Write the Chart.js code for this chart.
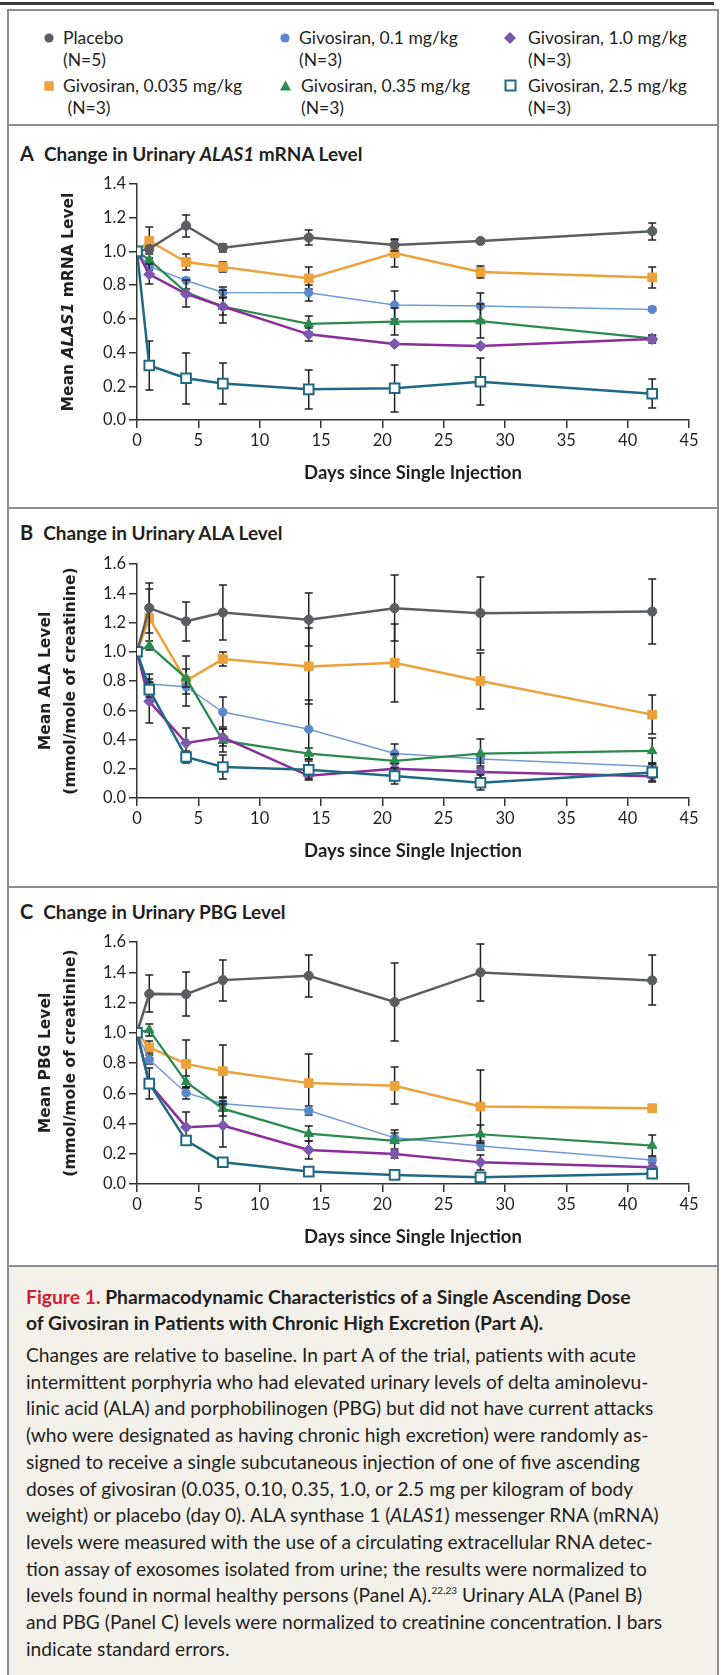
<!DOCTYPE html>
<html>
<head>
<meta charset="utf-8">
<title>Givosiran single ascending dose</title>
<script src="https://cdn.jsdelivr.net/npm/chart.js@4.4.1/dist/chart.umd.min.js"></script>
<style>
  html, body { margin: 0; padding: 0; background: #fff; }
  body { width: 721px; height: 1675px; position: relative; overflow: hidden;
         font-family: Lato, "Open Sans", sans-serif; color: #231f20; }
  .rule { position: absolute; left: 0; top: 2px; width: 714px; height: 3px; background: #3b3b3b; }
  .frame { position: absolute; left: 7px; top: 9px; width: 712px; height: 1680px;
           border: 2px solid #8d8d8d; box-sizing: border-box; }
  .sep { position: absolute; left: 7px; width: 712px; height: 2px; background: #8d8d8d; }
  .caption-bg { position: absolute; left: 9px; top: 1267px; width: 708px; height: 420px; background: #f4f1eb; }
  .leg { position: absolute; font-size: 17.5px; line-height: 21.5px; white-space: nowrap; }
  .mark { position: absolute; }
  .ptitle { position: absolute; left: 20px; font-size: 19px; font-weight: 700; white-space: nowrap; line-height: 22px; }
  .ptitle .letter { font-size: 20px; margin-right: 10px; }
  canvas { position: absolute; left: 0; }
  .cap { position: absolute; left: 26px; white-space: nowrap; }
  .cap-title { font-size: 19.3px; font-weight: 700; line-height: 25.7px; top: 1284px; }
  .cap-title .fig { color: #d1202f; }
  .cap-body { font-size: 19.2px; line-height: 26.7px; top: 1342px; }
  .cap-body sup { font-size: 10px; line-height: 0; vertical-align: 8px; }
</style>
</head>
<body>
<div class="rule"></div>
<div class="caption-bg"></div>
<div class="frame"></div>
<div class="sep" style="top:124px"></div>
<div class="sep" style="top:507px"></div>
<div class="sep" style="top:886px"></div>
<div class="sep" style="top:1265px"></div>

<!-- legend -->
<svg class="mark" style="left:43px;top:32px" width="12" height="12"><circle cx="6" cy="6" r="4.6" fill="#5b5e60"/></svg>
<div class="leg" style="left:63px;top:27px">Placebo<br>(N=5)</div>
<svg class="mark" style="left:43px;top:80px" width="12" height="12"><rect x="1.3" y="1.3" width="9.4" height="9.4" fill="#eba23c"/></svg>
<div class="leg" style="left:63px;top:75px">Givosiran, 0.035 mg/kg<br>&nbsp;(N=3)</div>
<svg class="mark" style="left:279px;top:32px" width="12" height="12"><circle cx="6" cy="6" r="4.6" fill="#5b88cc"/></svg>
<div class="leg" style="left:299px;top:27px">Givosiran, 0.1 mg/kg<br>(N=3)</div>
<svg class="mark" style="left:279px;top:79px" width="13" height="13"><polygon points="6.5,1.5 12,11.5 1,11.5" fill="#2b8a50"/></svg>
<div class="leg" style="left:301px;top:75px">Givosiran, 0.35 mg/kg<br>(N=3)</div>
<svg class="mark" style="left:503px;top:31px" width="14" height="14"><polygon points="7,1 13,7 7,13 1,7" fill="#7b57ae"/></svg>
<div class="leg" style="left:528px;top:27px">Givosiran, 1.0 mg/kg<br>(N=3)</div>
<svg class="mark" style="left:504px;top:79px" width="13" height="13"><rect x="1.5" y="1.5" width="10" height="10" fill="#fff" stroke="#1f6984" stroke-width="2"/></svg>
<div class="leg" style="left:528px;top:75px">Givosiran, 2.5 mg/kg<br>(N=3)</div>

<!-- panel titles -->
<div class="ptitle" style="top:142px"><span class="letter">A</span>Change in Urinary <i>ALAS1</i> mRNA Level</div>
<div class="ptitle" style="top:521px"><span class="letter">B</span>Change in Urinary ALA Level</div>
<div class="ptitle" style="top:900px"><span class="letter">C</span>Change in Urinary PBG Level</div>

<canvas id="chartA" width="721" height="335" style="top:165px"></canvas>
<canvas id="chartB" width="721" height="333" style="top:545px"></canvas>
<canvas id="chartC" width="721" height="341" style="top:923px"></canvas>

<!-- caption -->
<div class="cap cap-title"><span class="fig">Figure 1.</span> Pharmacodynamic Characteristics of a Single Ascending Dose<br>of Givosiran in Patients with Chronic High Excretion (Part A).</div>
<div class="cap cap-body">Changes are relative to baseline. In part A of the trial, patients with acute<br>intermittent porphyria who had elevated urinary levels of delta aminolevu-<br>linic acid (ALA) and porphobilinogen (PBG) but did not have current attacks<br>(who were designated as having chronic high excretion) were randomly as-<br>signed to receive a single subcutaneous injection of one of five ascending<br>doses of givosiran (0.035, 0.10, 0.35, 1.0, or 2.5 mg per kilogram of body<br>weight) or placebo (day 0). ALA synthase 1 (<i>ALAS1</i>) messenger RNA (mRNA)<br>levels were measured with the use of a circulating extracellular RNA detec-<br>tion assay of exosomes isolated from urine; the results were normalized to<br>levels found in normal healthy persons (Panel A).<sup>22,23</sup> Urinary ALA (Panel B)<br>and PBG (Panel C) levels were normalized to creatinine concentration. I bars<br>indicate standard errors.</div>

<script>
// Sampling days and axis ticks
const days = [0, 1, 4, 7, 14, 21, 28, 42];
const xTicks = [0, 5, 10, 15, 20, 25, 30, 35, 40, 45];
const yTicksA = [0, 0.2, 0.4, 0.6, 0.8, 1.0, 1.2, 1.4];
const yTicksBC = [0, 0.2, 0.4, 0.6, 0.8, 1.0, 1.2, 1.4, 1.6];

// Panel A: urinary ALAS1 mRNA (mean, standard error)
const alasPlacebo = [1.0, 1.015, 1.153, 1.022, 1.082, 1.038, 1.062, 1.12];
const alasPlaceboSe = [0, 0.02, 0.065, 0.025, 0.045, 0.035, 0.01, 0.05];
const alas0035 = [1.0, 1.062, 0.937, 0.908, 0.84, 0.99, 0.878, 0.846];
const alas0035Se = [0, 0.08, 0.05, 0.03, 0.065, 0.08, 0.035, 0.063];
const alas01 = [1.0, 0.911, 0.828, 0.757, 0.755, 0.682, 0.676, 0.656];
const alas01Se = [0, 0.02, 0.012, 0.03, 0.047, 0.085, 0.08, 0.012];
const alas035 = [1.0, 0.95, 0.758, 0.673, 0.57, 0.583, 0.587, 0.484];
const alas035Se = [0, 0.012, 0.02, 0.05, 0.047, 0.08, 0.1, 0.012];
const alas10 = [1.0, 0.864, 0.748, 0.673, 0.508, 0.451, 0.439, 0.48];
const alas10Se = [0, 0.06, 0.08, 0.1, 0.04, 0.012, 0.012, 0.022];
const alas25 = [1.0, 0.323, 0.248, 0.216, 0.182, 0.188, 0.227, 0.156];
const alas25Se = [0, 0.147, 0.152, 0.12, 0.117, 0.14, 0.138, 0.086];

// Panel B: urinary ALA, mmol/mole of creatinine
const alaPlacebo = [1.0, 1.299, 1.208, 1.268, 1.219, 1.298, 1.264, 1.275];
const alaPlaceboSe = [0, 0.17, 0.132, 0.185, 0.18, 0.225, 0.25, 0.225];
const ala0035 = [1.0, 1.231, 0.802, 0.95, 0.9, 0.924, 0.8, 0.57];
const ala0035Se = [0, 0.2, 0.17, 0.045, 0.26, 0.265, 0.19, 0.135];
const ala01 = [1.0, 0.78, 0.761, 0.588, 0.47, 0.304, 0.266, 0.216];
const ala01Se = [0, 0.07, 0.05, 0.1, 0.2, 0.065, 0.03, 0.02];
const ala035 = [1.0, 1.042, 0.82, 0.392, 0.304, 0.254, 0.304, 0.322];
const ala035Se = [0, 0.03, 0.06, 0.08, 0.04, 0.05, 0.1, 0.085];
const ala10 = [1.0, 0.661, 0.376, 0.415, 0.152, 0.2, 0.178, 0.148];
const ala10Se = [0, 0.15, 0.1, 0.06, 0.03, 0.03, 0.04, 0.04];
const ala25 = [1.0, 0.741, 0.28, 0.212, 0.193, 0.15, 0.104, 0.175];
const ala25Se = [0, 0.05, 0.04, 0.08, 0.06, 0.055, 0.05, 0.06];

// Panel C: urinary PBG, mmol/mole of creatinine
const pbgPlacebo = [1.0, 1.257, 1.255, 1.348, 1.377, 1.203, 1.399, 1.346];
const pbgPlaceboSe = [0, 0.122, 0.145, 0.135, 0.138, 0.26, 0.19, 0.165];
const pbg0035 = [1.0, 0.903, 0.794, 0.746, 0.667, 0.649, 0.512, 0.501];
const pbg0035Se = [0, 0.04, 0.155, 0.175, 0.19, 0.123, 0.24, 0.012];
const pbg01 = [1.0, 0.823, 0.602, 0.531, 0.486, 0.305, 0.252, 0.159];
const pbg01Se = [0, 0.03, 0.04, 0.045, 0.03, 0.03, 0.03, 0.02];
const pbg035 = [1.0, 1.018, 0.675, 0.498, 0.333, 0.285, 0.329, 0.254];
const pbg035Se = [0, 0.04, 0.04, 0.05, 0.05, 0.07, 0.06, 0.07];
const pbg10 = [1.0, 0.664, 0.376, 0.387, 0.225, 0.199, 0.143, 0.11];
const pbg10Se = [0, 0.1, 0.1, 0.14, 0.06, 0.03, 0.05, 0.012];
const pbg25 = [1.0, 0.664, 0.288, 0.144, 0.082, 0.06, 0.044, 0.068];
const pbg25Se = [0, 0.02, 0.012, 0.012, 0.012, 0.01, 0.01, 0.012];

// Group styling (legend order)
const groups = [
    { name: 'Placebo', line: '#5b5e60', width: 2.5, shape: 'circle', r: 4.6, fill: '#5b5e60', edge: '#5b5e60', edgeW: 1, order: 1 },
    { name: 'Givosiran, 0.035 mg/kg', line: '#eba23c', width: 2.5, shape: 'rect', r: 6.2, fill: '#eba23c', edge: '#eba23c', edgeW: 1, order: 5 },
    { name: 'Givosiran, 0.1 mg/kg', line: '#6f9ad8', width: 1.5, shape: 'circle', r: 4.2, fill: '#5b88cc', edge: '#5b88cc', edgeW: 1, order: 4 },
    { name: 'Givosiran, 0.35 mg/kg', line: '#2b8a50', width: 2.2, shape: 'triangle', r: 5.5, fill: '#2b8a50', edge: '#2b8a50', edgeW: 1, order: 3 },
    { name: 'Givosiran, 1.0 mg/kg', line: '#8b2d9b', width: 2.5, shape: 'rectRot', r: 5.5, fill: '#7b57ae', edge: '#7b57ae', edgeW: 1, order: 2 },
    { name: 'Givosiran, 2.5 mg/kg', line: '#1f6984', width: 2.5, shape: 'rect', r: 6.8, fill: '#ffffff', edge: '#1f6984', edgeW: 2, order: 0 }
];

Chart.defaults.font.family = 'Lato, "Open Sans", sans-serif';
Chart.defaults.color = '#231f20';

// draw I bars under each group's own line and markers
const errorBars = {
    id: 'errorBars',
    beforeDatasetDraw(chart, args) {
        const ds = chart.data.datasets[args.index];
        if (!ds.se) return;
        const y = chart.scales.y;
        const ctx = chart.ctx;
        ctx.save();
        ctx.strokeStyle = '#231f20';
        ctx.lineWidth = 1.5;
        args.meta.data.forEach((pt, i) => {
            const e = ds.se[i];
            if (!e) return;
            const v = ds.data[i].y;
            const top = Math.round(y.getPixelForValue(v + e));
            const bot = Math.round(y.getPixelForValue(v - e));
            ctx.beginPath();
            ctx.moveTo(pt.x, top); ctx.lineTo(pt.x, bot);
            ctx.moveTo(pt.x - 4, top); ctx.lineTo(pt.x + 4, top);
            ctx.moveTo(pt.x - 4, bot); ctx.lineTo(pt.x + 4, bot);
            ctx.stroke();
        });
        ctx.restore();
    }
};

// y title with mixed roman / italic parts (panel A)
const richYTitle = {
    id: 'richYTitle',
    afterDraw(chart, args, opts) {
        if (!opts.parts) return;
        const ctx = chart.ctx;
        const area = chart.chartArea;
        const fonts = opts.parts.map(p => (p.italic ? 'italic ' : '') + 'bold 15.5px "DejaVu Sans"');
        ctx.save();
        let total = 0;
        opts.parts.forEach((p, i) => { ctx.font = fonts[i]; total += ctx.measureText(p.text).width; });
        ctx.translate(opts.x, (area.top + area.bottom) / 2);
        ctx.rotate(-Math.PI / 2);
        ctx.fillStyle = '#231f20';
        ctx.textBaseline = 'middle';
        let pos = -total / 2;
        opts.parts.forEach((p, i) => {
            ctx.font = fonts[i];
            ctx.fillText(p.text, pos, 0);
            pos += ctx.measureText(p.text).width;
        });
        ctx.restore();
    }
};

function makeSets(seriesList) {
    return groups.map((g, k) => ({
        label: g.name,
        data: days.map((d, i) => ({ x: d, y: seriesList[k][0][i] })),
        se: seriesList[k][1],
        order: g.order,
        borderColor: g.line,
        borderWidth: g.width,
        pointStyle: g.shape,
        pointRadius: g.r,
        pointBackgroundColor: g.fill,
        pointBorderColor: g.edge,
        pointBorderWidth: g.edgeW,
        tension: 0,
        fill: false
    }));
}

function makeChart(id, seriesList, yTicks, yTitle, richParts) {
    const yMax = yTicks[yTicks.length - 1];
    return new Chart(document.getElementById(id), {
        type: 'line',
        data: { datasets: makeSets(seriesList) },
        plugins: [errorBars, richYTitle],
        options: {
            responsive: false,
            animation: false,
            events: [],
            layout: { padding: { top: 19, right: 32, bottom: 16, left: 0 } },
            plugins: {
                legend: { display: false },
                tooltip: { enabled: false },
                richYTitle: { parts: richParts, x: 69 }
            },
            scales: {
                x: {
                    type: 'linear', min: 0, max: 45,
                    afterBuildTicks: s => { s.ticks = xTicks.map(v => ({ value: v })); },
                    afterFit: s => { s.height = 64; },
                    ticks: { font: { size: 16.5 }, padding: 3, callback: v => String(v) },
                    grid: { drawOnChartArea: false, tickLength: 8, color: '#333', lineWidth: 1.5 },
                    border: { color: '#333', width: 1.5 },
                    title: { display: true, text: 'Days since Single Injection',
                             font: { size: 18.5, weight: 'bold' }, padding: { top: 0, bottom: 0 } }
                },
                y: {
                    min: 0, max: yMax,
                    afterBuildTicks: s => { s.ticks = yTicks.map(v => ({ value: v })); },
                    afterFit: s => { s.width = 137; },
                    ticks: { font: { size: 16.5 }, padding: 3, callback: v => v.toFixed(1) },
                    grid: { drawOnChartArea: false, tickLength: 8, color: '#333', lineWidth: 1.5 },
                    border: { color: '#333', width: 1.5 },
                    title: { display: !!yTitle, text: yTitle || '',
                             font: { family: '"DejaVu Sans"', size: 15.5, weight: 'bold', lineHeight: 1.65 },
                             padding: { top: 33, bottom: 0 } }
                }
            }
        }
    });
}

makeChart('chartA', [
    [alasPlacebo, alasPlaceboSe], [alas0035, alas0035Se], [alas01, alas01Se],
    [alas035, alas035Se], [alas10, alas10Se], [alas25, alas25Se]
], yTicksA, null, [{ text: 'Mean ' }, { text: 'ALAS1', italic: true }, { text: ' mRNA Level' }]);

makeChart('chartB', [
    [alaPlacebo, alaPlaceboSe], [ala0035, ala0035Se], [ala01, ala01Se],
    [ala035, ala035Se], [ala10, ala10Se], [ala25, ala25Se]
], yTicksBC, ['Mean ALA Level', '(mmol/mole of creatinine)'], null);

makeChart('chartC', [
    [pbgPlacebo, pbgPlaceboSe], [pbg0035, pbg0035Se], [pbg01, pbg01Se],
    [pbg035, pbg035Se], [pbg10, pbg10Se], [pbg25, pbg25Se]
], yTicksBC, ['Mean PBG Level', '(mmol/mole of creatinine)'], null);
</script>
</body>
</html>
